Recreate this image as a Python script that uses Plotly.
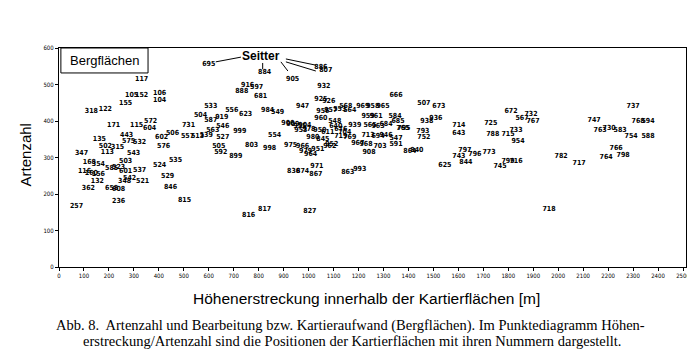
import plotly.graph_objects as go

# Kartierflächen: Nummer, Höhenerstreckung [m], Artenzahl
flaeche = ["117","105","152","106","104","155","318","122","171","115","572","604","506","602","731","557","513","539",
           "135","443","575","532","502","315","113","576","543","347","503","168","354","524","535","116","160","156",
           "585","523","601","537","529","132","348","542","521","362","658","608","846","815","236","257",
           "695","884","905","886","807","932","916","597","888","681","533","556","623","984","549","947","925","926",
           "504","587","919","546","563","527","999","554","505","592","899","803","998","975","966","979","964","951",
           "962","836","874","971","867","863","993","816","817","827",
           "666","507","673","938","936","714","643","725","793","752","765","547","591","969","958","965","959","961",
           "584","685","795","565","963","684","713","694","946","939","676","704","548","640","956","957","553","564",
           "568","960","906","909","955","904","953","978","950","611","719","769","980","845","952","967","968","703",
           "908","864","840","797","743","796","773","625","844",
           "672","567","732","767","733","788","715","954","747","763","730","583","737","768","594","754","588","766",
           "764","798","782","717","745","799","716","718"]
hoehe = [331,291,331,403,403,267,130,186,219,311,367,363,455,411,519,515,555,590,
         162,271,279,323,186,235,194,419,299,90,267,122,158,403,467,102,130,158,
         211,239,267,323,435,154,263,283,335,118,211,239,447,503,239,70,
         600,824,936,1049,1069,1061,756,792,732,808,608,692,748,836,876,976,1049,1081,
         567,608,652,656,616,656,724,864,640,648,708,772,844,928,976,988,1008,1037,
         1085,940,976,1033,1029,1157,1205,760,824,1005,
         1350,1462,1522,1474,1510,1602,1602,1730,1458,1462,1378,1350,1350,1217,1257,1298,1238,1270,
         1346,1358,1382,1246,1278,1310,1238,1278,1310,1185,1129,1145,1105,1109,1057,1089,1125,1165,
         1149,1049,917,937,965,985,969,1001,1045,1077,1129,1165,1017,1057,1093,1197,1230,1286,
         1242,1406,1434,1626,1602,1666,1723,1546,1630,
         1811,1855,1891,1899,1831,1738,1799,1839,2144,2168,2204,2248,2300,2320,2360,2292,2360,2232,
         2192,2260,2012,2084,1767,1799,1831,1963]
artenzahl = [515,471,471,477,458,449,427,433,389,389,400,381,367,356,389,359,359,362,
             351,362,345,342,332,329,315,332,312,312,290,288,282,279,293,263,258,255,
             271,274,263,266,249,236,236,244,236,216,216,214,219,184,181,167,
             556,534,515,548,540,496,499,493,482,469,441,430,419,430,425,441,460,455,
             416,403,411,386,375,356,373,362,332,315,304,334,326,334,332,318,310,323,
             332,263,263,277,255,260,269,142,159,153,
             471,449,441,400,408,389,367,395,373,356,381,353,337,441,441,441,414,414,
             414,400,381,389,386,392,362,359,362,389,378,370,400,386,427,430,433,430,
             441,408,395,392,386,389,375,378,375,370,359,356,356,351,337,340,335,332,
             315,318,321,321,304,310,315,279,288,
             427,408,419,400,375,364,364,345,403,375,381,375,441,400,400,359,359,326,
             301,307,304,285,277,290,290,159]

x_ticks = list(range(0, 2501, 100))
y_ticks = list(range(0, 601, 100))

fig = go.Figure()
fig.add_trace(go.Scatter(
    x=hoehe, y=artenzahl, text=flaeche, mode="text",
    textposition="middle center",
    textfont=dict(family="Liberation Sans Narrow, DejaVu Sans Condensed, Arial", size=7,
                  color="black", weight="bold"),
    hoverinfo="skip", showlegend=False,
))

line = dict(color="black", width=1)
# Seitter connector lines
fig.add_shape(type="line", x0=628, y0=562, x1=729, y1=575, line=line)
fig.add_shape(type="line", x0=816, y0=559, x1=816, y1=542, line=line)
fig.add_shape(type="line", x0=889, y0=562, x1=917, y1=537, line=line)
fig.add_shape(type="line", x0=909, y0=570, x1=1029, y1=553, line=line)
fig.add_shape(type="line", x0=909, y0=562, x1=1029, y1=537, line=line)
fig.add_annotation(x=808, y=578, text="<b>Seitter</b>", showarrow=False, xanchor="center", yanchor="middle",
                   font=dict(family="Liberation Sans, Arial", size=12, color="black"))

# Bergflächen box
fig.add_shape(type="rect", xref="paper", yref="paper", x0=0.003, y0=0.886, x1=0.142, y1=1.0,
              line=dict(color="black", width=1), fillcolor="white", layer="below")
fig.add_annotation(xref="paper", yref="paper", x=0.0725, y=0.943, xanchor="center", yanchor="middle",
                   text="Bergflächen", showarrow=False,
                   font=dict(family="Liberation Sans, Arial", size=13, color="black"))

# axis titles
fig.add_annotation(xref="paper", yref="paper", x=-0.054, y=0.51, xanchor="center", yanchor="middle",
                   text="Artenzahl", textangle=-90,
                   showarrow=False, font=dict(family="Liberation Sans, Arial", size=15, color="black"))
fig.add_annotation(xref="paper", yref="paper", x=0.49, y=-0.142, xanchor="center", yanchor="middle",
                   text="Höhenerstreckung innerhalb der Kartierflächen [m]",
                   showarrow=False, font=dict(family="Liberation Sans, Arial", size=15.5, color="black"))
# caption (two lines)
cap_font = dict(family="Liberation Serif, Times New Roman", size=14.5, color="black")
fig.add_annotation(xref="paper", yref="paper", x=0.465, y=-0.268, xanchor="center", yanchor="middle",
                   text="Abb. 8.  Artenzahl und Bearbeitung bzw. Kartieraufwand (Bergflächen). Im Punktediagramm Höhen-",
                   showarrow=False, font=cap_font)
fig.add_annotation(xref="paper", yref="paper", x=0.468, y=-0.338, xanchor="center", yanchor="middle",
                   text="erstreckung/Artenzahl sind die Positionen der Kartierflächen mit ihren Nummern dargestellt.",
                   showarrow=False, font=cap_font)

axis_common = dict(showgrid=False, zeroline=False, showline=True, linecolor="black", linewidth=1.2,
                   mirror=True, ticks="outside", ticklen=3, tickcolor="black",
                   tickfont=dict(family="DejaVu Sans Condensed, Liberation Sans Narrow", size=6, color="black"))
fig.update_xaxes(range=[0, 2512], tickvals=x_ticks, ticktext=[str(v) for v in x_ticks], **axis_common)
fig.update_yaxes(range=[0, 600], tickvals=y_ticks, ticktext=[str(v) for v in y_ticks], **axis_common)

fig.update_layout(width=695, height=364, margin=dict(l=51, r=17, t=40, b=105),
                  plot_bgcolor="white", paper_bgcolor="white")
fig.write_html("out.html")
